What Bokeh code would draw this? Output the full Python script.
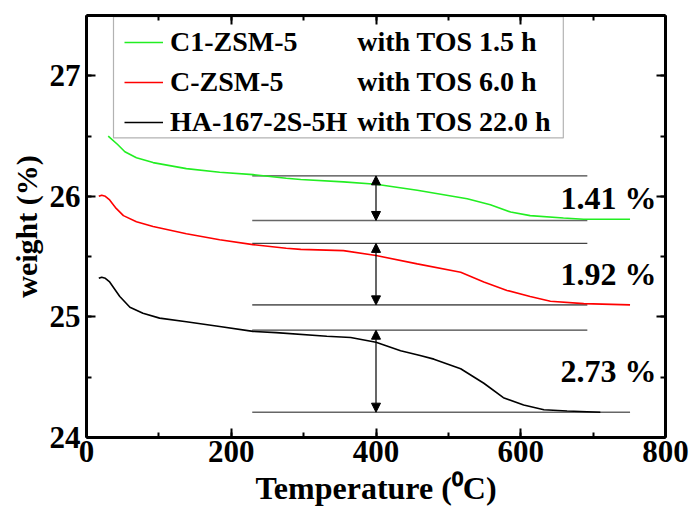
from bokeh.plotting import figure
from bokeh.models import (Range1d, LinearAxis, SingleIntervalTicker, Legend, LegendItem,
                          Label, Arrow, NormalHead, BoxAnnotation)
from bokeh.embed import file_html
from bokeh.resources import INLINE

# ---------------- data ----------------
green_x = [30, 43, 53, 69, 92, 138, 184, 230, 276, 296, 355, 400, 457, 526, 558, 586, 613, 659, 687, 751]
green_y = [26.50, 26.43, 26.37, 26.32, 26.28, 26.23, 26.20, 26.18, 26.15, 26.14, 26.12, 26.10, 26.05,
           25.98, 25.93, 25.87, 25.84, 25.82, 25.81, 25.81]

red_x = [17, 21, 26, 32, 41, 51, 69, 92, 138, 184, 230, 276, 296, 355, 400, 457, 517, 549, 581, 613,
         641, 687, 751]
red_y = [26.00, 26.01, 26.00, 25.97, 25.90, 25.84, 25.79, 25.75, 25.69, 25.64, 25.60, 25.57, 25.56,
         25.55, 25.51, 25.44, 25.37, 25.29, 25.22, 25.17, 25.13, 25.11, 25.10]

black_x = [17, 21, 26, 32, 46, 60, 78, 101, 138, 184, 230, 262, 332, 365, 400, 434, 461, 480, 517,
           549, 576, 604, 632, 664, 710]
black_y = [25.32, 25.33, 25.32, 25.29, 25.17, 25.08, 25.03, 24.99, 24.96, 24.92, 24.88, 24.87, 24.84,
           24.83, 24.79, 24.72, 24.68, 24.65, 24.57, 24.45, 24.33, 24.27, 24.23, 24.22, 24.21]

series_names = ["C1-ZSM-5", "C-ZSM-5", "HA-167-2S-5H"]
series_tos = ["with TOS 1.5 h", "with TOS 6.0 h", "with TOS 22.0 h"]
series_colors = ["#22ee22", "#ff0000", "#000000"]

step_top = [26.17, 25.61, 24.89]
step_bottom = [25.80, 25.10, 24.21]
step_labels = ["1.41 %", "1.92 %", "2.73 %"]
step_x = 400

FONT = "Liberation Serif"

p = figure(width=694, height=522, output_backend="svg", toolbar_location=None,
           x_range=Range1d(0, 800), y_range=Range1d(24, 27.5),
           min_border_left=86, min_border_right=29, min_border_top=15, min_border_bottom=85)
p.outline_line_color = None
p.xgrid.visible = False
p.ygrid.visible = False
p.background_fill_color = "white"
p.border_fill_color = "white"

xb = p.below[0]
yl = p.left[0]
xb.ticker = SingleIntervalTicker(interval=200, num_minor_ticks=2)
yl.ticker = SingleIntervalTicker(interval=1, num_minor_ticks=2)
xb.axis_label = "Temperature (\u2070C)"
yl.axis_label = "weight (%)"

top_ax = LinearAxis(ticker=SingleIntervalTicker(interval=200, num_minor_ticks=2))
right_ax = LinearAxis(ticker=SingleIntervalTicker(interval=1, num_minor_ticks=2))
p.add_layout(top_ax, "above")
p.add_layout(right_ax, "right")

for ax in [xb, yl, top_ax, right_ax]:
    ax.axis_line_width = 3
    ax.axis_line_color = "black"
    ax.major_tick_in = 9
    ax.major_tick_out = 0
    ax.minor_tick_in = 5
    ax.minor_tick_out = 0
    ax.major_tick_line_width = 2
    ax.minor_tick_line_width = 2
    ax.major_tick_line_color = "black"
    ax.minor_tick_line_color = "black"
    ax.major_label_text_font = FONT
    ax.major_label_text_font_style = "bold"
    ax.major_label_text_font_size = "31px"
    ax.major_label_text_color = "black"
    ax.axis_label_text_font = FONT
    ax.axis_label_text_font_style = "bold"
    ax.axis_label_text_color = "black"

for ax in [top_ax, right_ax]:
    ax.major_label_text_font_size = "1px"
    ax.major_label_text_color = None
    ax.major_label_standoff = 0

xb.major_label_standoff = 3
xb.axis_label_standoff = 5
xb.axis_label_text_font_size = "32px"
yl.major_label_standoff = 6
yl.axis_label_standoff = 4
yl.axis_label_text_font_size = "30px"

# reference levels
p.segment(x0=[229] * 3, x1=[692] * 3, y0=step_top, y1=step_top, line_color="#444444", line_width=1.3)
p.segment(x0=[229, 229, 229], x1=[692, 692, 751], y0=step_bottom, y1=step_bottom,
          line_color="#666666", line_width=1.6)

# curves
rs = []
for xs, ys, c in zip([green_x, red_x, black_x], [green_y, red_y, black_y], series_colors):
    rs.append(p.line(xs, ys, line_color=c, line_width=1.6))

# arrows
for t, b in zip(step_top, step_bottom):
    p.add_layout(Arrow(x_start=step_x, y_start=t, x_end=step_x, y_end=b,
                       start=NormalHead(size=9, fill_color="black", line_color="black"),
                       end=NormalHead(size=9, fill_color="black", line_color="black"),
                       line_color="black", line_width=1.2))

# step labels
for lab, t, b in zip(step_labels, step_top, step_bottom):
    p.add_layout(Label(x=655, y=(t + b) / 2, text=lab, text_font=FONT, text_font_style="bold",
                       text_font_size="32px", text_align="left", text_baseline="middle",
                       text_color="black"))

# legend
p.add_layout(BoxAnnotation(left=37.3, right=658.8, top=27.49, bottom=26.485, fill_color=None,
                           line_color="black", line_width=1.2))
legend = Legend(items=[LegendItem(label=n, renderers=[r]) for n, r in zip(series_names, rs)],
                location=(38, 295), padding=0, spacing=0, margin=0,
                glyph_width=39, glyph_height=40, label_height=40, label_standoff=7,
                label_text_font=FONT, label_text_font_style="bold", label_text_font_size="28px",
                label_text_color="black",
                border_line_color=None, background_fill_alpha=0)
p.add_layout(legend, "center")
for tos, yv in zip(series_tos, [27.283, 26.950, 26.618]):
    p.add_layout(Label(x=374, y=yv, text=tos, text_font=FONT, text_font_style="bold",
                       text_font_size="28px", text_align="left", text_baseline="middle",
                       text_color="black"))

open("out.html", "w").write(file_html(p, INLINE))
